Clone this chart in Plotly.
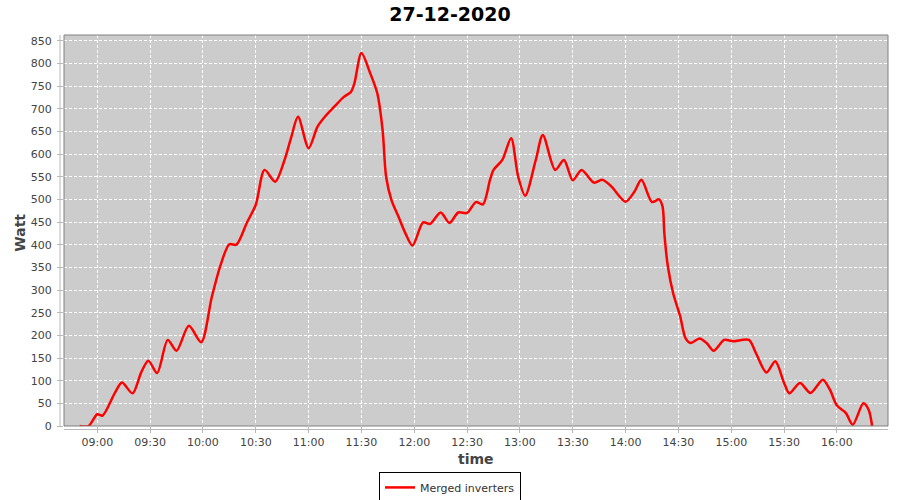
import plotly.graph_objects as go

DAY = "2020-12-27"

# readings (time of day, watt)
times = [
    "08:50", "08:55", "09:00", "09:03", "09:10", "09:14", "09:20", "09:25", "09:29", "09:34",
    "09:40", "09:45", "09:52", "09:59", "10:05", "10:10", "10:15", "10:19", "10:25", "10:30",
    "10:35", "10:41", "10:46", "10:50", "10:54", "11:00", "11:05", "11:09", "11:15", "11:20",
    "11:24", "11:26", "11:30", "11:35", "11:39", "11:42", "11:44", "11:47", "11:51", "11:55",
    "11:59", "12:05", "12:09", "12:15", "12:20", "12:25", "12:30", "12:35", "12:39", "12:43",
    "12:45", "12:50", "12:55", "12:59", "13:03", "13:09", "13:13", "13:20", "13:25", "13:30",
    "13:35", "13:42", "13:47", "13:52", "14:00", "14:05", "14:09", "14:15", "14:19", "14:21",
    "14:22", "14:24", "14:27", "14:31", "14:34", "14:37", "14:42", "14:46", "14:50", "14:56",
    "15:01", "15:10", "15:14", "15:20", "15:25", "15:30", "15:33", "15:39", "15:45", "15:52",
    "15:56", "16:00", "16:05", "16:09", "16:15", "16:18", "16:20",
]
watt = [
    0, 0, 26, 23, 73, 96, 72, 119, 144, 117,
    190, 166, 221, 185, 284, 355, 401, 400, 449, 488,
    565, 539, 583, 635, 682, 613, 660, 681, 706, 726,
    737, 756, 823, 778, 734, 653, 550, 499, 462, 425,
    398, 449, 446, 471, 448, 471, 470, 494, 489, 543,
    565, 587, 635, 550, 508, 587, 642, 565, 587, 542,
    565, 537, 543, 528, 495, 517, 543, 494, 500, 484,
    425, 352, 293, 242, 194, 183, 193, 183, 166, 190,
    187, 190, 161, 118, 143, 95, 72, 95, 73, 102,
    80, 45, 29, 3, 50, 36, 0,
]

x_vals = [f"{DAY} {t}" for t in times]

FONT = "DejaVu Sans"
TICK_GREY = "#444444"
AXIS_GREY = "#b8b8b8"

# plot area in pixels (left, right, top, bottom) as measured on the reference
L, R, T, B = 64, 888, 35, 426.5
PW, PH = R - L, B - T

fig = go.Figure(
    go.Scatter(
        x=x_vals,
        y=watt,
        mode="lines",
        line=dict(color="#ff0000", width=2.5, shape="spline", smoothing=0.8),
        name="Merged inverters",
    )
)

fig.update_layout(
    width=900,
    height=500,
    margin=dict(l=L, r=900 - R, t=T, b=500 - B, autoexpand=False),
    paper_bgcolor="white",
    plot_bgcolor="#cccccc",
    font=dict(family=FONT, color=TICK_GREY, size=11),
    title=dict(
        text="27-12-2020",
        x=0.5,
        xanchor="center",
        y=1 - 14 / 500,
        yanchor="middle",
        font=dict(family=FONT, size=19, color="black", weight="bold"),
    ),
    showlegend=True,
    legend=dict(
        orientation="h",
        x=(450 - L) / PW,
        xanchor="center",
        y=(B - 488) / PH,
        yanchor="middle",
        bordercolor="black",
        borderwidth=1,
        bgcolor="white",
        itemwidth=30,
        font=dict(family=FONT, size=11, color="#333333"),
    ),
    xaxis=dict(
        type="date",
        range=[f"{DAY} 08:41:06", f"{DAY} 16:29:00"],
        dtick=30 * 60 * 1000,
        tick0=f"{DAY} 09:00",
        tickformat="%H:%M",
        ticks="outside",
        ticklen=6,
        tickcolor=AXIS_GREY,
        showgrid=True,
        gridcolor="white",
        gridwidth=1,
        griddash="3px,2px",
        zeroline=False,
        showline=False,
        automargin=False,
    ),
    yaxis=dict(
        range=[0, 862.6],
        dtick=50,
        ticks="outside",
        ticklen=6,
        tickcolor=AXIS_GREY,
        ticklabelstandoff=3,
        showgrid=True,
        gridcolor="white",
        gridwidth=1,
        griddash="3px,2px",
        zeroline=False,
        showline=False,
        automargin=False,
    ),
)

axis_title_font = dict(family=FONT, size=14, color=TICK_GREY, weight="bold")
fig.add_annotation(text="time", xref="paper", yref="paper", x=(476 - L) / PW, y=(B - 460) / PH,
                   xanchor="center", yanchor="middle", showarrow=False, font=axis_title_font)
fig.add_annotation(text="Watt", xref="paper", yref="paper", x=(20 - L) / PW, y=(B - 233) / PH,
                   xanchor="center", yanchor="middle", showarrow=False, textangle=-90,
                   font=axis_title_font)

# plot outline plus the offset axis lines, JFreeChart style
fig.add_shape(type="rect", xref="paper", yref="paper", x0=0, x1=1, y0=0, y1=1,
              line=dict(color="#808080", width=1), layer="above")
fig.add_shape(type="line", xref="paper", yref="paper", x0=-4 / PW, x1=-4 / PW, y0=0, y1=1,
              line=dict(color=AXIS_GREY, width=1))
fig.add_shape(type="line", xref="paper", yref="paper", x0=0, x1=1, y0=-3.5 / PH, y1=-3.5 / PH,
              line=dict(color=AXIS_GREY, width=1))

# the page's default body margin would shift the 900x500 figure by 8px
fig.write_html(
    "out.html",
    config={"displayModeBar": False},
    post_script="document.body.style.margin='0';",
)
